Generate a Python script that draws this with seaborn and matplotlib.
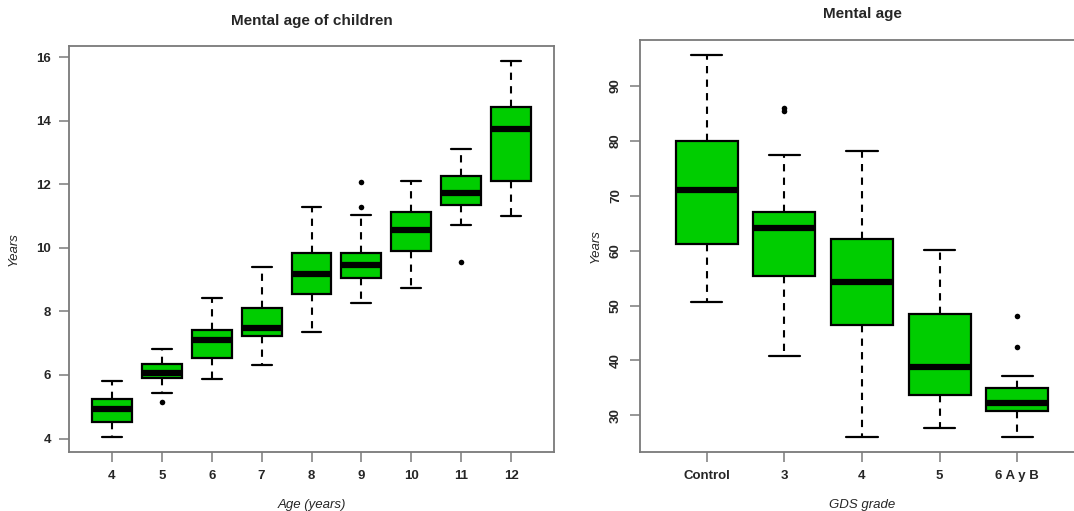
import numpy as np
import pandas as pd
import matplotlib
matplotlib.use("Agg")
import matplotlib.pyplot as plt
import seaborn as sns

# ---- Mental age of children: five-number summaries per chronological age ----
child_ages = ["4", "5", "6", "7", "8", "9", "10", "11", "12"]
child_low = [4.05, 5.42, 5.86, 6.30, 7.36, 8.27, 8.74, 10.73, 11.01]
child_q1 = [4.53, 5.91, 6.55, 7.23, 8.56, 9.05, 9.91, 11.36, 12.11]
child_med = [4.92, 6.06, 7.10, 7.48, 9.18, 9.46, 10.55, 11.74, 13.74]
child_q3 = [5.25, 6.34, 7.43, 8.11, 9.85, 9.85, 11.13, 12.27, 14.44]
child_high = [5.82, 6.83, 8.41, 9.41, 11.30, 11.03, 12.11, 13.12, 15.89]
child_out_group = ["5", "9", "9", "11"]
child_out_value = [5.15, 11.30, 12.06, 9.55]

# ---- Mental age by GDS grade ----
gds_grades = ["Control", "3", "4", "5", "6 A y B"]
gds_low = [50.66, 40.86, 26.1, 27.75, 26.1]
gds_q1 = [61.15, 55.4, 46.5, 33.66, 30.7]
gds_med = [71.1, 64.1, 54.26, 38.8, 32.2]
gds_q3 = [79.9, 67.0, 62.1, 48.4, 35.0]
gds_high = [95.6, 77.5, 78.08, 60.2, 37.2]
gds_out_group = ["3", "3", "6 A y B", "6 A y B"]
gds_out_value = [85.5, 86.0, 42.4, 48.1]

GREEN = "#00CD00"
FRAME = "#7a7a7a"


def summary_frame(groups, low, q1, med, q3, high):
    rows = []
    for g, *vals in zip(groups, low, q1, med, q3, high):
        for v in vals:
            rows.append((g, v))
    return pd.DataFrame(rows, columns=["group", "value"])


def draw_panel(ax, groups, low, q1, med, q3, high, out_g, out_v):
    df = summary_frame(groups, low, q1, med, q3, high)
    sns.boxplot(
        data=df, x="group", y="value", order=groups, ax=ax,
        color=GREEN, saturation=1, width=0.8, whis=(0, 100),
        linecolor="black", linewidth=1.6, showfliers=False,
        medianprops=dict(linewidth=4.5, color="black", solid_capstyle="butt"),
        whiskerprops=dict(linestyle=(0, (3.5, 3)), linewidth=1.5, color="black"),
        capprops=dict(linewidth=1.6, color="black"),
        boxprops=dict(edgecolor="black", linewidth=1.6),
    )
    outs = pd.DataFrame({"group": out_g, "value": out_v})
    sns.stripplot(data=outs, x="group", y="value", order=groups, ax=ax,
                  jitter=False, color="black", size=4, linewidth=0)
    n = len(groups)
    ax.set_xlim(-0.86, n - 1 + 0.86)
    lo = min(min(low), min(out_v))
    hi = max(max(high), max(out_v))
    pad = 0.04 * (hi - lo)
    ax.set_ylim(lo - pad, hi + pad)
    for s in ax.spines.values():
        s.set_visible(True)
        s.set_color(FRAME)
        s.set_linewidth(1.3)
    ax.tick_params(axis="both", which="major", bottom=True, left=True,
                   direction="out", length=7, width=1.1,
                   color=FRAME, labelsize=9.5, pad=6)
    for lab in ax.get_xticklabels() + ax.get_yticklabels():
        lab.set_fontweight("bold")


sns.set_theme(style="white")
plt.rcParams["font.family"] = ["Liberation Sans", "DejaVu Sans"]

fig = plt.figure(figsize=(10.74, 5.11), dpi=100)
W, H = 1074, 511

ax1 = fig.add_axes([69 / W, 1 - 452 / H, (554 - 69) / W, (452 - 45.7) / H])
draw_panel(ax1, child_ages, child_low, child_q1, child_med, child_q3,
           child_high, child_out_group, child_out_value)
ax1.set_yticks([4, 6, 8, 10, 12, 14, 16])
ax1.set_yticklabels(["4", "6", "8", "10", "12", "14", "16"], fontweight="bold")
ax1.set_title("Mental age of children", fontsize=11, fontweight="bold", pad=15)
ax1.set_xlabel("Age (years)", fontsize=9.5, fontstyle="italic", labelpad=12)
ax1.set_ylabel("Years", fontsize=9.5, fontstyle="italic", labelpad=12)

ax2 = fig.add_axes([640 / W, 1 - 452 / H, (1084 - 640) / W, (452 - 40) / H])
draw_panel(ax2, gds_grades, gds_low, gds_q1, gds_med, gds_q3,
           gds_high, gds_out_group, gds_out_value)
ax2.set_yticks([30, 40, 50, 60, 70, 80, 90])
ax2.set_yticklabels(["30", "40", "50", "60", "70", "80", "90"],
                    fontweight="bold", rotation=90, va="center")
ax2.set_title("Mental age", fontsize=11, fontweight="bold", pad=16)
ax2.set_xlabel("GDS grade", fontsize=9.5, fontstyle="italic", labelpad=12)
ax2.set_ylabel("Years", fontsize=9.5, fontstyle="italic", labelpad=6)

fig.savefig("out.png", dpi=100)
